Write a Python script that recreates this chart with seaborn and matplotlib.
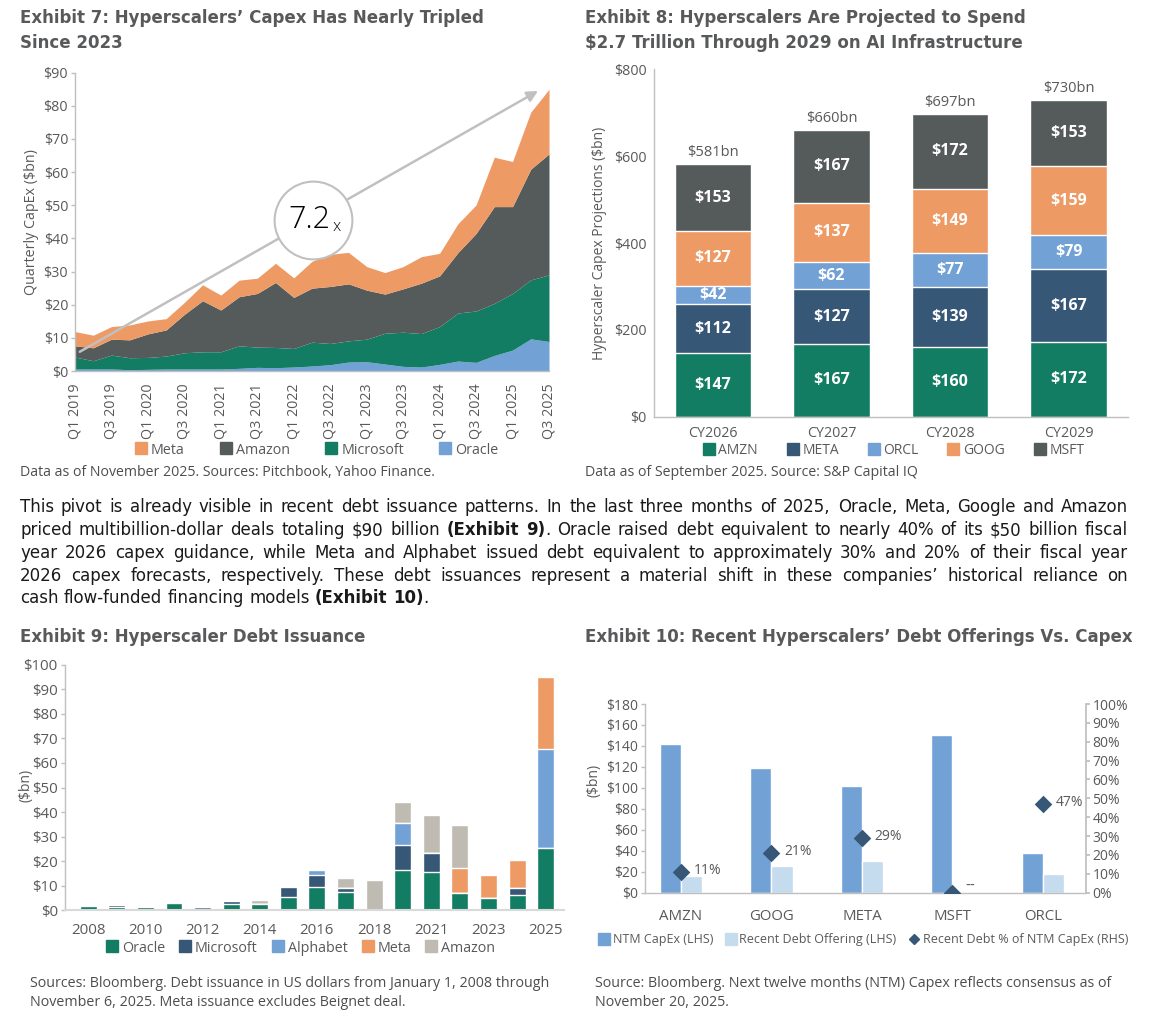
import numpy as np
import pandas as pd
import matplotlib
matplotlib.use("Agg")
import matplotlib.pyplot as plt
import seaborn as sns
from matplotlib.lines import Line2D

# ---------------- data ----------------
# Exhibit 7: quarterly capex ($bn), Q1 2019 .. Q3 2025
quarters = [f"Q{q} {y}" for y in range(2019, 2026) for q in (1, 2, 3, 4)][:27]
oracle_q = [0.6, 0.6, 0.6, 0.4, 0.5, 0.6, 0.6, 0.6, 0.6, 0.8, 1.1, 1.0, 1.2, 1.5,
            1.9, 2.7, 2.8, 2.1, 1.4, 1.2, 2.0, 3.0, 2.6, 4.7, 6.3, 9.7, 8.9]
microsoft_q = [3.6, 2.5, 4.2, 3.6, 3.6, 3.9, 4.9, 5.2, 5.2, 6.8, 6.1, 6.1, 5.6, 7.2,
               6.4, 6.4, 6.8, 9.3, 10.3, 10.1, 11.4, 14.5, 15.5, 15.7, 17.1, 17.8, 20.1]
amazon_q = [3.4, 3.9, 4.8, 5.4, 7.1, 7.9, 11.6, 15.4, 12.6, 14.8, 16.2, 19.6, 15.4, 16.3,
            17.2, 17.2, 14.8, 11.8, 13.1, 15.2, 15.3, 18.2, 23.4, 29.2, 26.2, 33.4, 36.5]
meta_q = [4.3, 3.8, 3.8, 4.5, 3.9, 3.4, 3.6, 4.8, 4.5, 5.0, 4.6, 5.8, 5.9, 8.1,
          9.7, 9.5, 7.1, 6.5, 6.7, 8.0, 6.8, 8.7, 8.6, 14.9, 13.6, 17.2, 19.5]

# Exhibit 8: capex projections ($bn)
years8 = ["CY2026", "CY2027", "CY2028", "CY2029"]
amzn8 = [147, 167, 160, 172]
meta8 = [112, 127, 139, 167]
orcl8 = [42, 62, 77, 79]
goog8 = [127, 137, 149, 159]
msft8 = [153, 167, 172, 153]

# Exhibit 9: debt issuance ($bn)
years9 = ["2008", "2009", "2010", "2011", "2012", "2013", "2014", "2015", "2016",
          "2017", "2018", "2020", "2021", "2022", "2023", "2024", "2025"]
oracle9 = [1.8, 1.5, 1.2, 3.0, 0.5, 2.7, 2.7, 5.3, 9.5, 7.3, 0, 16.4, 15.5, 7.1, 5.2, 6.2, 25.5]
microsoft9 = [0, 0.7, 0.6, 0.4, 0.8, 1.1, 0, 4.1, 5.0, 1.9, 0, 10.2, 8.0, 0, 0, 3.0, 0]
alphabet9 = [0, 0, 0, 0, 0, 0, 0, 0, 2.0, 0, 0, 9.1, 0, 0, 0, 0, 40.0]
meta9 = [0, 0, 0, 0, 0, 0, 0, 0, 0, 0, 0, 0, 0, 10.3, 9.2, 11.4, 29.6]
amazon9 = [0, 0, 0, 0, 0, 0, 1.6, 0, 0, 4.1, 12.3, 8.4, 15.5, 17.5, 0, 0, 0]

# Exhibit 10: NTM capex vs recent debt
tickers10 = ["AMZN", "GOOG", "META", "MSFT", "ORCL"]
ntm_capex = [141.5, 119.3, 102.0, 150.4, 37.8]
recent_debt = [15.6, 25.1, 29.9, 0.0, 17.8]
debt_pct = [11, 21, 29, 0, 47]
pct_labels = ["11%", "21%", "29%", "--", "47%"]

# ---------------- style ----------------
GREEN, NAVY, BLUE, ORANGE, DGRAY, LGRAY = "#127D62", "#375777", "#72A1D6", "#EE9A64", "#555B5B", "#BFBBB3"
PALE = "#C5DCEF"
TICK = "#595959"
SPINE = "#BFBFBF"
TITLE = "#58595B"
NOTE = "#4D4D4D"
TEXT_FONT = ["DejaVu Sans"]

sns.set_theme(style="white")
plt.rcParams["font.family"] = ["Open Sans", "DejaVu Sans"]
plt.rcParams["text.parse_math"] = False

W, H = 1150, 1022
fig = plt.figure(figsize=(W / 100, H / 100), dpi=100)
renderer = fig.canvas.get_renderer()


def px_axes(left, top, right, bottom):
    return fig.add_axes([left / W, 1 - bottom / H, (right - left) / W, (bottom - top) / H])


def ftext(x, y, s, **kw):
    return fig.text(x / W, 1 - y / H, s, **kw)


def style_axis(ax, fs=10.5):
    sns.despine(ax=ax)
    for sp in ("left", "bottom"):
        ax.spines[sp].set_color(SPINE)
        ax.spines[sp].set_linewidth(1)
    ax.tick_params(axis="both", labelsize=fs, labelcolor=TICK, color=SPINE)
    ax.tick_params(axis="y", left=True, length=3, width=1, pad=2)
    ax.tick_params(axis="x", bottom=False, pad=3)
    ax.set_xlabel("")


def square_legend(names, colors, cx, cy, spacing=2.2, markers=None, fs=10.3):
    handles = []
    for i, (n, c) in enumerate(zip(names, colors)):
        m = markers[i] if markers else "s"
        handles.append(Line2D([], [], marker=m, ls="", color=c, markersize=8 if m == "s" else 5, label=n))
    leg = fig.legend(handles=handles, loc="center", bbox_to_anchor=(cx / W, 1 - cy / H),
                     ncol=len(names), frameon=False, fontsize=fs, handletextpad=0.2,
                     columnspacing=spacing, handlelength=1.0, borderaxespad=0, borderpad=0.1)
    for t in leg.get_texts():
        t.set_color(TICK)
    return leg


# ---------------- titles ----------------
tkw = dict(fontfamily=TEXT_FONT, fontweight="bold", fontsize=12, color=TITLE, va="center")
ftext(20, 18, "Exhibit 7: Hyperscalers’ Capex Has Nearly Tripled", **tkw)
ftext(20, 43, "Since 2023", **tkw)
ftext(585, 18, "Exhibit 8: Hyperscalers Are Projected to Spend", **tkw)
ftext(585, 43, "$2.7 Trillion Through 2029 on AI Infrastructure", **tkw)
ftext(20, 637, "Exhibit 9: Hyperscaler Debt Issuance", **tkw)
ftext(585, 637, "Exhibit 10: Recent Hyperscalers’ Debt Offerings Vs. Capex", **tkw)

# ---------------- Exhibit 7 ----------------
ax7 = px_axes(75, 72.7, 549, 371)
xq = np.arange(len(quarters))
ax7.stackplot(xq, oracle_q, microsoft_q, amazon_q, meta_q,
              colors=[BLUE, GREEN, DGRAY, ORANGE], linewidth=0)
ax7.set_xlim(0, len(quarters) - 1)
ax7.set_ylim(0, 90)
ax7.set_yticks(range(0, 91, 10))
ax7.set_yticklabels([f"${v}" for v in range(0, 91, 10)])
ax7.set_xticks(xq[::2])
ax7.set_xticklabels(quarters[::2], rotation=90)
style_axis(ax7, fs=10.3)
ax7.set_ylabel("Quarterly CapEx ($bn)", fontsize=10.3, color=TICK, labelpad=3)
ax7.annotate("", xy=(25.4, 84.5), xytext=(0.26, 5.8),
             arrowprops=dict(arrowstyle="-|>", color="#C0C0C0", lw=1.8, mutation_scale=16, shrinkA=0, shrinkB=0))
ax7.plot([13.04], [45.5], marker="o", ms=56, mfc="white", mec="#C0C0C0", mew=1.5, zorder=6)
ax7.annotate("7.2", xy=(13.04, 45.5), xytext=(13, 0), textcoords="offset points",
             ha="right", va="center", fontsize=22, fontweight="light", color="black", zorder=7)
ax7.annotate("x", xy=(13.04, 45.5), xytext=(14, -5), textcoords="offset points",
             ha="left", va="center", fontsize=12, fontweight="light", color="black", zorder=7)
square_legend(["Meta", "Amazon", "Microsoft", "Oracle"], [ORANGE, DGRAY, GREEN, BLUE], 316, 450, spacing=2.4)
ftext(20, 473, "Data as of November 2025. Sources: Pitchbook, Yahoo Finance.", fontsize=10.2, color=NOTE, va="center")

# ---------------- Exhibit 8 ----------------
ax8 = px_axes(653.5, 69.3, 1128, 416.7)
layers8 = [amzn8, meta8, orcl8, goog8, msft8]
colors8 = [GREEN, NAVY, BLUE, ORANGE, DGRAY]
cum8 = np.cumsum(layers8, axis=0)
for vals, col in reversed(list(zip(cum8, colors8))):
    sns.barplot(x=years8, y=vals, color=col, width=0.645, saturation=1, errorbar=None, ax=ax8)
for layer, top in zip(layers8, cum8):
    for i, (v, t) in enumerate(zip(layer, top)):
        ax8.text(i, t - v / 2, f"${v}", ha="center", va="center", color="white",
                 fontsize=11.5, fontweight="bold")
for i, t in enumerate(cum8[-1]):
    ax8.annotate(f"${t}bn", xy=(i, t), xytext=(0, 3), textcoords="offset points",
                 ha="center", va="bottom", fontsize=10.5, color=TICK)
ax8.set_xlim(-0.5, 3.5)
ax8.set_ylim(0, 800)
ax8.set_yticks(range(0, 801, 200))
ax8.set_yticklabels([f"${v}" for v in range(0, 801, 200)])
style_axis(ax8, fs=10.3)
ax8.tick_params(axis="y", left=False)
ax8.tick_params(axis="x", pad=1)
ax8.set_ylabel("Hyperscaler Capex Projections ($bn)", fontsize=10, color=TICK, labelpad=5)
square_legend(["AMZN", "META", "ORCL", "GOOG", "MSFT"], colors8, 893, 450, spacing=2.0, fs=10)
ftext(585, 473, "Data as of September 2025. Source: S&P Capital IQ", fontsize=10.2, color=NOTE, va="center")

# ---------------- paragraph ----------------
para = [
    "This pivot is already visible in recent debt issuance patterns. In the last three months of 2025, Oracle, Meta, Google and Amazon",
    "priced multibillion-dollar deals totaling $90 billion *(Exhibit 9)*. Oracle raised debt equivalent to nearly 40% of its $50 billion fiscal",
    "year 2026 capex guidance, while Meta and Alphabet issued debt equivalent to approximately 30% and 20% of their fiscal year",
    "2026 capex forecasts, respectively. These debt issuances represent a material shift in these companies’ historical reliance on",
    "cash flow-funded financing models *(Exhibit 10)*.",
]
X0, X1 = 20, 1128

# pick a size so the longest justified line sits at its natural width
probe = [ftext(0, 0, l.replace("*", ""), fontsize=10, fontfamily=TEXT_FONT) for l in para[:-1]]
natural = max(t.get_window_extent(renderer).width for t in probe)
for t in probe:
    t.remove()
PSIZE = min(12.0, 10 * (X1 - X0) / natural * 0.985)


def justify_line(line, y, last):
    bold = False
    items = []
    for word in line.split(" "):
        segs, cur = [], ""
        for ch in word:
            if ch == "*":
                if cur:
                    segs.append((cur, bold))
                cur, bold = "", not bold
            else:
                cur += ch
        if cur:
            segs.append((cur, bold))
        texts = []
        for s, b in segs:
            t = ftext(0, y + 5, s, fontsize=PSIZE, fontweight="bold" if b else "normal",
                      color="#1A1A1A", va="baseline", fontfamily=TEXT_FONT)
            texts.append((t, t.get_window_extent(renderer).width))
        items.append(texts)
    widths = [sum(w for _, w in ts) for ts in items]
    gap = 0.32 * PSIZE * 100 / 72 if last else (X1 - X0 - sum(widths)) / (len(items) - 1)
    x = X0
    for ts in items:
        for t, w in ts:
            t.set_x(x / W)
            x += w
        x += gap


for k, line in enumerate(para):
    justify_line(line, 507.5 + 22.7 * k, last=(k == len(para) - 1))

# ---------------- Exhibit 9 ----------------
ax9 = px_axes(64.7, 664.7, 564, 910.3)
layers9 = [oracle9, microsoft9, alphabet9, meta9, amazon9]
colors9 = [GREEN, NAVY, BLUE, ORANGE, LGRAY]
cum9 = np.cumsum(layers9, axis=0)
for vals, col in reversed(list(zip(cum9, colors9))):
    sns.barplot(x=years9, y=vals, color=col, width=0.59, saturation=1, errorbar=None, ax=ax9)
ax9.set_xlim(-0.82, 16.64)
ax9.set_ylim(0, 100)
ax9.set_yticks(range(0, 101, 10))
ax9.set_yticklabels([f"${v}" for v in range(0, 101, 10)])
ax9.set_xticks(range(len(years9)))
ax9.set_xticklabels([y if i % 2 == 0 else "" for i, y in enumerate(years9)])
style_axis(ax9, fs=10.8)
ax9.spines["bottom"].set_color("#D9D9D9")
ax9.spines["bottom"].set_linewidth(1.5)
ax9.set_ylabel("")
ftext(26, 785, "($bn)", rotation=90, fontsize=10, color=TICK, ha="center", va="center")
square_legend(["Oracle", "Microsoft", "Alphabet", "Meta", "Amazon"], colors9, 300, 948, spacing=0.9)
ftext(30, 993, "Sources: Bloomberg. Debt issuance in US dollars from January 1, 2008 through\n"
               "November 6, 2025. Meta issuance excludes Beignet deal.",
      fontsize=10.3, color=NOTE, va="center", linespacing=1.35)

# ---------------- Exhibit 10 ----------------
ax10 = px_axes(645.4, 704, 1085.5, 892.7)
df10 = pd.DataFrame({
    "ticker": tickers10 * 2,
    "value": ntm_capex + recent_debt,
    "series": ["NTM CapEx (LHS)"] * 5 + ["Recent Debt Offering (LHS)"] * 5,
})
sns.barplot(data=df10, x="ticker", y="value", hue="series", palette=[BLUE, PALE],
            width=0.47, saturation=1, errorbar=None, legend=False, ax=ax10)
ax10.set_ylim(0, 180)
ax10.set_yticks(range(0, 181, 20))
ax10.set_yticklabels([f"${v}" for v in range(0, 181, 20)])
style_axis(ax10, fs=10)
ax10.tick_params(axis="x", labelsize=10.8, pad=6)
ax10.set_ylabel("")
ax10r = ax10.twinx()
sns.scatterplot(x=np.arange(len(tickers10)), y=debt_pct, marker="D", s=80, color=NAVY,
                linewidth=0, ax=ax10r, zorder=5)
for i, (v, lab) in enumerate(zip(debt_pct, pct_labels)):
    ax10r.annotate(lab, xy=(i, v), xytext=(9, 5 if lab == "--" else 1), textcoords="offset points",
                   ha="left", va="center", fontsize=10, color=TICK,
                   fontfamily=["DejaVu Sans"] if lab == "--" else None)
ax10r.set_ylim(0, 100)
ax10r.set_yticks(range(0, 101, 10))
ax10r.set_yticklabels([f"{v}%" for v in range(0, 101, 10)])
for a in (ax10, ax10r):
    a.set_xlim(-0.393, 4.47)
ax10r.spines["top"].set_visible(False)
ax10r.spines["left"].set_visible(False)
ax10r.spines["bottom"].set_visible(False)
ax10r.spines["right"].set_color(SPINE)
ax10r.tick_params(axis="y", right=True, length=3, color=SPINE, labelsize=10, labelcolor=TICK, pad=2)
ftext(594, 780, "($bn)", rotation=90, fontsize=10, color=TICK, ha="center", va="center")
square_legend(["NTM CapEx (LHS)", "Recent Debt Offering (LHS)", "Recent Debt % of NTM CapEx (RHS)"],
              [BLUE, PALE, NAVY], 863, 940, spacing=0.9, markers=["s", "s", "D"], fs=9)
ftext(595, 993, "Source: Bloomberg. Next twelve months (NTM) Capex reflects consensus as of\n"
                "November 20, 2025.",
      fontsize=10.3, color=NOTE, va="center", linespacing=1.35)

fig.savefig("out.png", dpi=100)
